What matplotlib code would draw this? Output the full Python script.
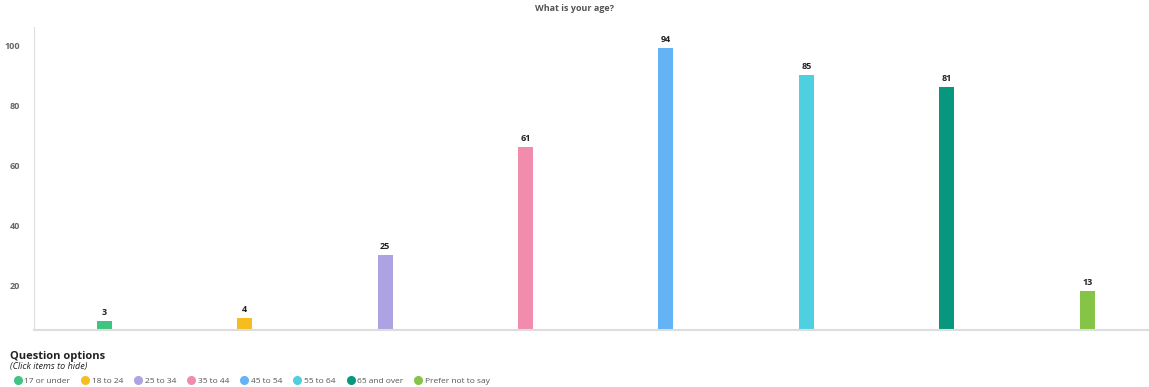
import matplotlib
matplotlib.use('Agg')
import matplotlib.pyplot as plt
from matplotlib.lines import Line2D

# Datos del gráfico
categorias = ['17 or under', '18 to 24', '25 to 34', '35 to 44',
              '45 to 54', '55 to 64', '65 and over', 'Prefer not to say']
valores = [3, 4, 25, 61, 94, 85, 81, 13]
colores = ['#40c482', '#f5bd1f', '#ada3e3', '#f28cad',
           '#63b3f5', '#4fd0e0', '#07977f', '#85c446']
ticks_y = [20, 40, 60, 80, 100]

plt.rcParams['font.family'] = ['Open Sans', 'DejaVu Sans']

fig = plt.figure(figsize=(11.49, 3.87), dpi=100)
ax = fig.add_axes([34 / 1149, 57 / 387, 1.0 - 34 / 1149, 303 / 387])

x = list(range(len(valores)))
ax.bar(x, valores, width=0.107, color=colores)
ax.set_xlim(-0.5, 7.44)
ax.set_ylim(0, 101)

# etiquetas de valor
for xi, v in zip(x, valores):
    ax.text(xi, v + 1.2, str(v), ha='center', va='bottom',
            fontsize=6.5, fontweight='bold', color='#222222')

# las etiquetas del eje original quedan desplazadas respecto a la base
ax.set_yticks([t - 5.3 for t in ticks_y])
ax.set_yticklabels([str(t) for t in ticks_y], fontsize=6.5,
                   color='#666666', fontweight='bold')
ax.tick_params(axis='y', length=0, pad=10)
ax.set_xticks([])
for lado in ['top', 'right']:
    ax.spines[lado].set_visible(False)
ax.spines['left'].set_color('#dddddd')
ax.spines['bottom'].set_color('#dddddd')
ax.spines['bottom'].set_linewidth(1.5)

fig.text(0.5, 0.977, 'What is your age?', ha='center', va='center',
         fontsize=6.5, fontweight='bold', color='#555555')

# leyenda
fig.text(10 / 1149, 1 - 356 / 387, 'Question options', ha='left', va='center',
         fontsize=8, fontweight='bold', color='#222222')
fig.text(10 / 1149, 1 - 367 / 387, '(Click items to hide)', ha='left',
         va='center', fontsize=6.5, style='italic', color='#222222')

handles = [Line2D([], [], marker='o', linestyle='', markersize=5.5,
                  markerfacecolor=c, markeredgecolor=c) for c in colores]
fig.legend(handles, categorias, ncol=len(categorias), loc='center left',
           bbox_to_anchor=(10 / 1149, 1 - 381 / 387), frameon=False,
           fontsize=6, handletextpad=0.3, columnspacing=1.3,
           handlelength=1.0, labelcolor='#555555', borderaxespad=0)

fig.savefig('out.png', dpi=100)
